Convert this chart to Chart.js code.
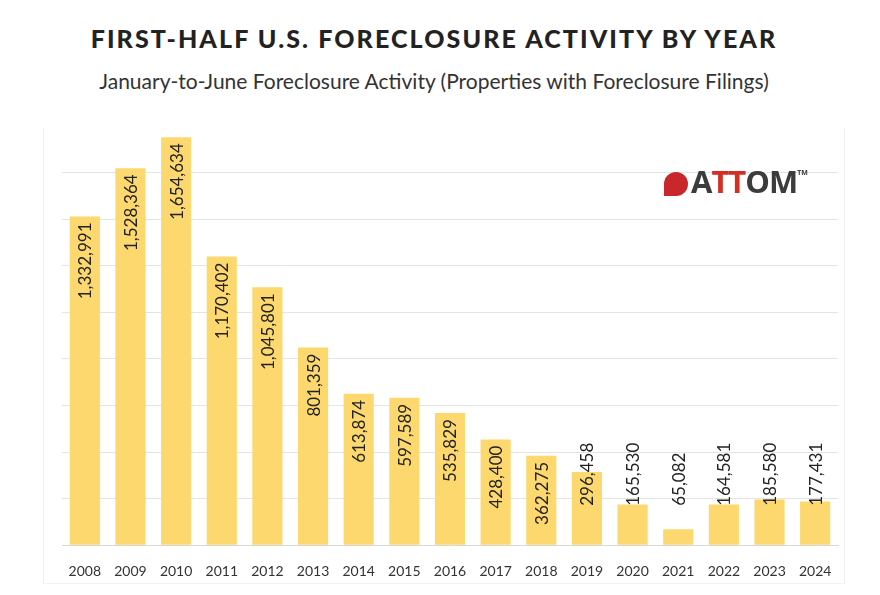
<!DOCTYPE html>
<html>
<head>
<meta charset="utf-8">
<script src="https://cdn.jsdelivr.net/npm/chart.js@4"></script>
<style>
  body { margin: 0; background: #fff; font-family: Lato, "Open Sans", sans-serif; }
  #wrap { position: relative; width: 880px; height: 595px; }
  #c { position: absolute; left: 0; top: 0; }
  .title { position: absolute; top: 23px; left: 0; width: 868px; text-align: center; font-weight: 900; font-size: 25px; letter-spacing: 2.1px; color: #222; }
  .sub { position: absolute; top: 68px; left: 0; width: 868px; text-align: center; font-size: 21px; color: #333; }
  .frame { position: absolute; left: 43px; top: 128px; width: 800px; height: 455px; border-left: 1px solid #eee; border-right: 1px solid #eee; border-bottom: 1px solid #f2f2f2; }
  .logo { position: absolute; left: 664px; top: 160px; font-family: "Open Sans", sans-serif; font-weight: 700; font-size: 31px; color: #3c3c3c; letter-spacing: -1px; }
  .logo .r { color: #d32f24; }
  .logo .dot { display: inline-block; width: 24px; height: 24px; border-radius: 12px 12px 12px 0; background: #c8272c; margin-right: 3px; vertical-align: -3px; }
  .logo sup { font-size: 7px; letter-spacing: 0; vertical-align: 18px; }
</style>
</head>
<body>
<div id="wrap">
  <div class="title">FIRST-HALF U.S. FORECLOSURE ACTIVITY BY YEAR</div>
  <div class="sub">January-to-June Foreclosure Activity (Properties with Foreclosure Filings)</div>
  <div class="frame"></div>
  <canvas id="c" width="880" height="595"></canvas>
  <div class="logo"><span class="dot"></span>A<span class="r">TT</span>OM<sup>TM</sup></div>
</div>
<script>
var years = ["2008", "2009", "2010", "2011", "2012", "2013", "2014", "2015", "2016",
             "2017", "2018", "2019", "2020", "2021", "2022", "2023", "2024"];
var filings = [1332991, 1528364, 1654634, 1170402, 1045801, 801359, 613874, 597589, 535829,
               428400, 362275, 296458, 165530, 65082, 164581, 185580, 177431];

// rotated value labels inside / above the bars
var barLabels = {
    id: 'barLabels',
    afterDatasetsDraw: function (chart) {
        var ctx = chart.ctx;
        var meta = chart.getDatasetMeta(0);
        var yScale = chart.scales.y;
        ctx.save();
        ctx.font = '17px Lato, "Open Sans", sans-serif';
        ctx.fillStyle = '#222';
        ctx.textBaseline = 'middle';
        meta.data.forEach(function (bar, i) {
            var text = filings[i].toLocaleString('en-US');
            ctx.save();
            if (filings[i] >= 350000) {
                ctx.translate(bar.x, bar.y + 6);
                ctx.rotate(-Math.PI / 2);
                ctx.textAlign = 'right';
            } else {
                ctx.translate(bar.x, yScale.getPixelForValue(160000));
                ctx.rotate(-Math.PI / 2);
                ctx.textAlign = 'left';
            }
            ctx.fillText(text, 0, 1);
            ctx.restore();
        });
        ctx.restore();
    }
};

var chart = new Chart(document.getElementById('c'), {
    type: 'bar',
    data: {
        labels: years,
        datasets: [{
            data: filings,
            backgroundColor: '#fcd86e',
            barPercentage: 0.66,
            categoryPercentage: 1
        }]
    },
    options: {
        responsive: false,
        animation: false,
        layout: { padding: { left: 62, right: 42, top: 126, bottom: 5 } },
        plugins: { legend: { display: false }, tooltip: { enabled: false } },
        scales: {
            x: {
                grid: { display: false },
                border: { color: '#d8d8d8' },
                ticks: { color: '#333', padding: 10, font: { size: 14, family: 'Lato, "Open Sans", sans-serif' } }
            },
            y: {
                min: 0,
                max: 1700000,
                border: { display: false },
                ticks: { display: false, stepSize: 200000 },
                grid: {
                    drawTicks: false,
                    color: function (c) { return c.tick.value > 1600000 ? 'rgba(0,0,0,0)' : '#e4e4e4'; }
                }
            }
        }
    },
    plugins: [barLabels]
});
</script>
</body>
</html>
